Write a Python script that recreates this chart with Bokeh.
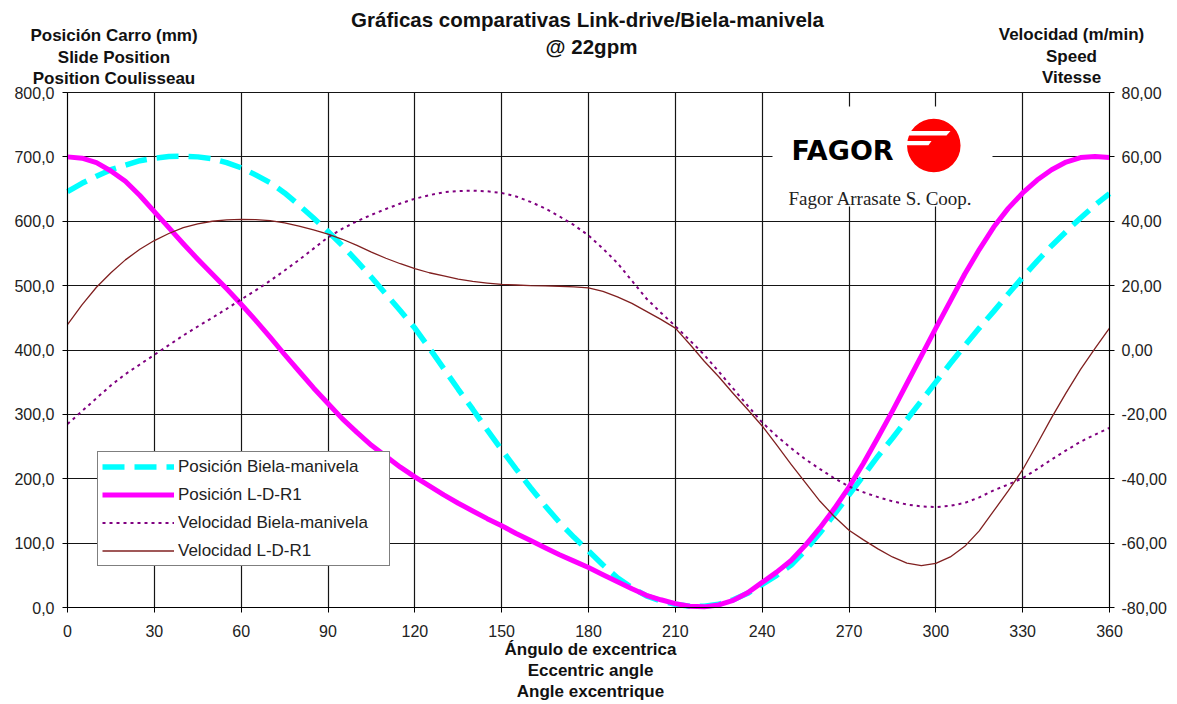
from bokeh.plotting import figure
from bokeh.models import (Range1d, LinearAxis, FixedTicker, Label, BoxAnnotation, Legend,
                          LegendItem, Grid)
from bokeh.embed import file_html
from bokeh.resources import INLINE

# ---------------- data ----------------
angle = [0, 5, 10, 15, 20, 25, 30, 35, 40, 45, 50, 55, 60, 65, 70, 75, 80, 85, 90, 95,
         100, 105, 110, 115, 120, 125, 130, 135, 140, 145, 150, 155, 160, 165, 170, 175, 180, 185,
         190, 195, 200, 205, 210, 215, 220, 225, 230, 235, 240, 245, 250, 255, 260, 265, 270, 275,
         280, 285, 290, 295, 300, 305, 310, 315, 320, 325, 330, 335, 340, 345, 350, 355, 360]

# Posición Biela-manivela (mm)
pos_bm = [646, 659, 670, 680, 687, 694, 698, 700.5, 701, 700, 697, 691, 683, 672, 660, 644, 625, 605, 584,
          562, 538, 513, 487, 461, 434, 403, 371, 339, 308, 276, 245, 215, 186, 158, 132, 109, 88, 66,
          46, 31, 18, 10, 5, 2, 2, 5, 12, 22, 36, 50, 66, 89, 116, 145, 175, 205,
          235, 263, 292, 321, 350, 379, 407, 434, 460, 487, 513, 538, 562, 584, 605, 625, 643]

# Posición L-D-R1 (mm)
pos_ld = [700, 698, 691, 678, 662, 640, 615, 590, 565, 541, 518, 495, 471, 446, 420, 393, 367, 341, 317,
          293, 272, 252, 235, 218, 203, 189, 175, 162, 150, 138, 127, 115, 104, 93, 82, 72, 62, 51,
          40, 29, 19, 12, 6, 2, 1, 4, 11, 23, 39, 55, 73, 97, 124, 154, 187, 224,
          264, 305, 348, 391, 434, 476, 518, 556, 591, 620, 644, 664, 680, 692, 699, 700.5, 699]

# Velocidad Biela-manivela (m/min)
vel_bm = [-23, -19, -15, -11, -7.5, -4.5, -1.5, 1.5, 4.5, 7.3, 10, 12.8, 15.7, 18.5, 21.5, 24.7, 28, 31.5, 35,
          37.7, 40, 42, 43.8, 45.5, 47, 48.1, 49, 49.4, 49.5, 49.3, 48.8, 47.7, 46, 44, 41.5, 38.8, 35.6, 31.5,
          27, 21.5, 16, 11.6, 7.4, 3, -1.5, -6.7, -12, -17.3, -22.5, -26.7, -30.5, -34, -37, -39.9, -42.4, -44.2,
          -45.7, -47, -48, -48.6, -48.8, -48.4, -47.5, -45.8, -43.6, -41.8, -39.8, -37, -34, -31.2, -28.5, -26.3, -24.2]

# Velocidad L-D-R1 (m/min)
vel_ld = [7.9, 14, 19.5, 24, 28, 31.3, 34, 36.2, 38, 39.2, 40, 40.4, 40.6, 40.5, 40.2, 39.5, 38.5, 37.3, 36,
          34.4, 32.5, 30.4, 28.5, 26.8, 25.3, 24, 23, 22, 21.3, 20.8, 20.4, 20.2, 20, 19.9, 19.8, 19.6, 19.3, 18.2,
          16.5, 14.5, 12, 9.5, 6.8, 1.8, -3.5, -8.3, -13.5, -18.5, -23.6, -29.5, -35.5, -41.3, -47, -51.8, -56, -59,
          -61.8, -64.3, -66.2, -67, -66.3, -64.3, -61, -56.2, -50, -43.8, -37.2, -29.2, -21, -13.3, -6, 0.5, 6.8]

x_ticks = [0, 30, 60, 90, 120, 150, 180, 210, 240, 270, 300, 330, 360]
pos_ticks = [0, 100, 200, 300, 400, 500, 600, 700, 800]
vel_ticks = [-80, -60, -40, -20, 0, 20, 40, 60, 80]

series_names = ["Posición Biela-manivela", "Posición L-D-R1",
                "Velocidad Biela-manivela", "Velocidad L-D-R1"]

title_lines = ["Gráficas comparativas Link-drive/Biela-manivela", "@ 22gpm"]
left_title = ["Posición Carro (mm)", "Slide Position", "Position Coulisseau"]
right_title = ["Velocidad (m/min)", "Speed", "Vitesse"]
bottom_title = ["Ángulo de excentrica", "Eccentric angle", "Angle excentrique"]

# ---------------- layout (pixels) ----------------
W, H = 1177, 704
FL, FR, FT, FB = 67, 1109, 92, 607          # plot area in page pixels
X_MIN, X_MAX = 0, 360
P_MIN, P_MAX = 0, 800
V_MIN, V_MAX = -80, 80


def dx(px):
    return X_MIN + (px - FL) / (FR - FL) * (X_MAX - X_MIN)


def dy(py):
    return P_MIN + (FB - py) / (FB - FT) * (P_MAX - P_MIN)


def dv(py):
    return V_MIN + (FB - py) / (FB - FT) * (V_MAX - V_MIN)


FONT = "Liberation Sans"

p = figure(width=W, height=H,
           x_range=Range1d(dx(0), dx(W)), y_range=Range1d(dy(H), dy(0)),
           x_axis_type=None, y_axis_type=None,
           output_backend="svg", toolbar_location=None, title_location=None,
           min_border=0, min_border_left=0, min_border_right=0, min_border_top=0, min_border_bottom=0,
           background_fill_color="white", border_fill_color="white", outline_line_color=None)
p.extra_y_ranges = {"vel": Range1d(dv(H), dv(0))}

# grids restricted to the plot area
xg = Grid(dimension=0, ticker=FixedTicker(ticks=x_ticks), bounds=(X_MIN, X_MAX), cross_bounds=(P_MIN, P_MAX))
yg = Grid(dimension=1, ticker=FixedTicker(ticks=pos_ticks), bounds=(P_MIN, P_MAX), cross_bounds=(X_MIN, X_MAX))
for g in (xg, yg):
    g.grid_line_color = "#151515"
    g.grid_line_width = 1.2
    p.add_layout(g)


def style_axis(ax, standoff):
    ax.major_tick_out = 5
    ax.major_tick_in = 0
    ax.minor_tick_line_color = None
    ax.axis_line_color = "black"
    ax.major_tick_line_color = "black"
    ax.major_label_text_font = FONT
    ax.major_label_text_font_size = "16px"
    ax.major_label_text_color = "#222222"
    ax.major_label_standoff = standoff


xa = LinearAxis(ticker=FixedTicker(ticks=x_ticks), fixed_location=P_MIN, bounds=(X_MIN, X_MAX))
style_axis(xa, 12)
p.add_layout(xa, "below")

ya = LinearAxis(ticker=FixedTicker(ticks=pos_ticks), fixed_location=X_MIN, bounds=(P_MIN, P_MAX))
ya.major_label_overrides = {t: f"{t:.1f}".replace(".", ",") for t in pos_ticks}
style_axis(ya, 8)
p.add_layout(ya, "left")

ra = LinearAxis(y_range_name="vel", ticker=FixedTicker(ticks=vel_ticks), fixed_location=X_MAX,
                bounds=(V_MIN, V_MAX))
ra.major_label_overrides = {t: f"{t:.2f}".replace(".", ",") for t in vel_ticks}
style_axis(ra, 7)
p.add_layout(ra, "right")

# logo background box (hides the grid behind the logo)
logo_box = BoxAnnotation(left=dx(772), right=dx(992), bottom=dy(206), top=dy(106),
                         fill_color="white", fill_alpha=1, line_color=None, level="underlay")
p.add_layout(logo_box)

# series
r1 = p.line(angle, pos_bm, line_color="#00FFFF", line_width=5.5, line_dash="22 10")
r2 = p.line(angle, pos_ld, line_color="#FF00FF", line_width=5, line_join="round")
r3 = p.line(angle, vel_bm, y_range_name="vel", line_color="#800080", line_width=2, line_dash="3 4")
r4 = p.line(angle, vel_ld, y_range_name="vel", line_color="#802020", line_width=1.3, line_join="round")

legend = Legend(items=[LegendItem(label=n, renderers=[r]) for n, r in zip(series_names, [r1, r2, r3, r4])],
                location=(97, H - 566), margin=0, padding=4, spacing=7,
                glyph_width=72, glyph_height=21, label_height=21, label_width=207, label_standoff=4,
                label_text_font=FONT, label_text_font_size="17px", label_text_color="#222222",
                border_line_color="black", border_line_width=1,
                background_fill_color="white", background_fill_alpha=1)
p.add_layout(legend)

# logo
p.scatter(x=[dx(933.3)], y=[dy(145)], size=53.5, marker="circle", fill_color="#FF0000", line_color=None)
stripe_x = [[dx(900), dx(950), dx(946), dx(900)], [dx(900), dx(931), dx(928), dx(900)]]
stripe_y = [[dy(130.5), dy(130.5), dy(135), dy(135)], [dy(140.5), dy(140.5), dy(144.8), dy(144.8)]]
p.patches(xs=stripe_x, ys=stripe_y, fill_color="white", line_color=None)
p.add_layout(Label(x=dx(791), y=dy(150), text="FAGOR", text_font="DejaVu Sans", text_font_style="bold",
                   text_font_size="27px", text_color="black", text_align="left", text_baseline="alphabetic"))
p.add_layout(Label(x=dx(788), y=dy(198), text="Fagor Arrasate S. Coop.", text_font="Liberation Serif",
                   text_font_size="19px", text_color="#222222", text_align="left", text_baseline="alphabetic"))


# titles
def add_text(px, py, txt, size, bold=True):
    p.add_layout(Label(x=dx(px), y=dy(py), text=txt, text_font=FONT, text_font_size=size,
                       text_font_style="bold" if bold else "normal", text_color="#111111",
                       text_align="center", text_baseline="middle"))


add_text(587, 19, title_lines[0], "20.5px")
add_text(591, 46, title_lines[1], "20.5px")
for i, t in enumerate(left_title):
    add_text(113.5, 35 + 21.5 * i, t, "17px")
for i, t in enumerate(right_title):
    add_text(1071, 34 + 21.5 * i, t, "17px")
for i, t in enumerate(bottom_title):
    add_text(590, 649 + 21 * i, t, "17px")

open("out.html", "w").write(file_html(p, INLINE))
